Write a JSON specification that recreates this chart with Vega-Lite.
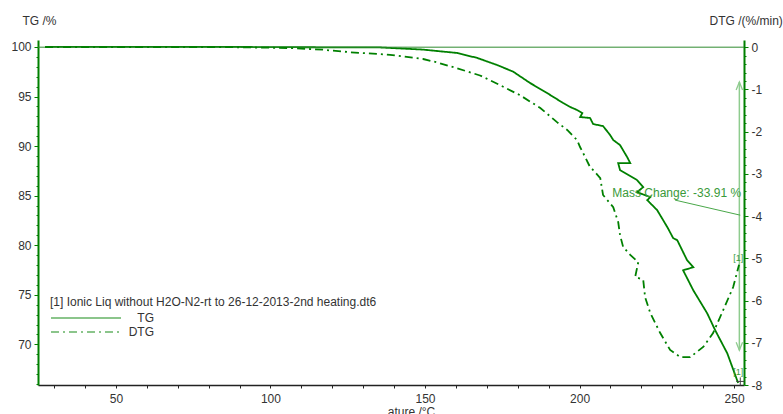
{
  "$schema": "https://vega.github.io/schema/vega-lite/v6.json",
  "width": 706,
  "height": 345,
  "autosize": {"type": "none"},
  "padding": {"left": 38, "top": 40, "right": 39, "bottom": 29},
  "background": "white",
  "config": {
    "view": {"stroke": null},
    "font": "Liberation Sans",
    "axis": {"grid": false, "labelOverlap": false, "labelFont": "Liberation Sans", "titleFont": "Liberation Sans", "labelFontSize": 12, "titleFontSize": 12, "labelColor": "#333333", "titleColor": "#333333", "titleFontWeight": "normal"}
  },
  "datasets": {
    "curves": [
      {"series": "TG", "i": 0, "T": 27.1, "v": 100.0},
      {"series": "TG", "i": 1, "T": 61.0, "v": 100.0},
      {"series": "TG", "i": 2, "T": 87.9, "v": 100.0},
      {"series": "TG", "i": 3, "T": 109.6, "v": 99.97},
      {"series": "TG", "i": 4, "T": 135.5, "v": 99.95},
      {"series": "TG", "i": 5, "T": 149.4, "v": 99.73},
      {"series": "TG", "i": 6, "T": 160.4, "v": 99.39},
      {"series": "TG", "i": 7, "T": 166.9, "v": 98.89},
      {"series": "TG", "i": 8, "T": 173.3, "v": 98.18},
      {"series": "TG", "i": 9, "T": 178.5, "v": 97.51},
      {"series": "TG", "i": 10, "T": 184.0, "v": 96.36},
      {"series": "TG", "i": 11, "T": 189.5, "v": 95.35},
      {"series": "TG", "i": 12, "T": 194.7, "v": 94.34},
      {"series": "TG", "i": 13, "T": 197.0, "v": 93.94},
      {"series": "TG", "i": 14, "T": 199.2, "v": 93.64},
      {"series": "TG", "i": 15, "T": 200.9, "v": 93.33},
      {"series": "TG", "i": 16, "T": 200.2, "v": 92.93},
      {"series": "TG", "i": 17, "T": 203.4, "v": 92.83},
      {"series": "TG", "i": 18, "T": 204.4, "v": 92.22},
      {"series": "TG", "i": 19, "T": 207.6, "v": 92.02},
      {"series": "TG", "i": 20, "T": 209.9, "v": 91.11},
      {"series": "TG", "i": 21, "T": 210.9, "v": 90.61},
      {"series": "TG", "i": 22, "T": 213.1, "v": 90.10},
      {"series": "TG", "i": 23, "T": 215.4, "v": 88.89},
      {"series": "TG", "i": 24, "T": 216.4, "v": 88.28},
      {"series": "TG", "i": 25, "T": 212.5, "v": 88.28},
      {"series": "TG", "i": 26, "T": 213.1, "v": 87.58},
      {"series": "TG", "i": 27, "T": 218.6, "v": 86.57},
      {"series": "TG", "i": 28, "T": 220.6, "v": 85.86},
      {"series": "TG", "i": 29, "T": 218.6, "v": 85.35},
      {"series": "TG", "i": 30, "T": 222.9, "v": 84.85},
      {"series": "TG", "i": 31, "T": 221.9, "v": 84.55},
      {"series": "TG", "i": 32, "T": 225.1, "v": 83.54},
      {"series": "TG", "i": 33, "T": 228.4, "v": 81.82},
      {"series": "TG", "i": 34, "T": 230.3, "v": 80.71},
      {"series": "TG", "i": 35, "T": 231.6, "v": 80.51},
      {"series": "TG", "i": 36, "T": 234.8, "v": 78.48},
      {"series": "TG", "i": 37, "T": 236.8, "v": 77.78},
      {"series": "TG", "i": 38, "T": 233.5, "v": 77.47},
      {"series": "TG", "i": 39, "T": 236.8, "v": 75.45},
      {"series": "TG", "i": 40, "T": 241.3, "v": 73.13},
      {"series": "TG", "i": 41, "T": 243.9, "v": 71.41},
      {"series": "TG", "i": 42, "T": 247.8, "v": 69.09},
      {"series": "TG", "i": 43, "T": 251.3, "v": 66.1},
      {"series": "DTG", "i": 0, "T": 27.1, "v": 0},
      {"series": "DTG", "i": 1, "T": 87.9, "v": 0},
      {"series": "DTG", "i": 2, "T": 106.4, "v": -0.02},
      {"series": "DTG", "i": 3, "T": 117.0, "v": -0.06},
      {"series": "DTG", "i": 4, "T": 125.8, "v": -0.12},
      {"series": "DTG", "i": 5, "T": 138.7, "v": -0.18},
      {"series": "DTG", "i": 6, "T": 149.4, "v": -0.28},
      {"series": "DTG", "i": 7, "T": 153.9, "v": -0.36},
      {"series": "DTG", "i": 8, "T": 160.4, "v": -0.50},
      {"series": "DTG", "i": 9, "T": 167.8, "v": -0.67},
      {"series": "DTG", "i": 10, "T": 174.3, "v": -0.90},
      {"series": "DTG", "i": 11, "T": 180.8, "v": -1.14},
      {"series": "DTG", "i": 12, "T": 187.3, "v": -1.44},
      {"series": "DTG", "i": 13, "T": 192.8, "v": -1.78},
      {"series": "DTG", "i": 14, "T": 196.0, "v": -1.96},
      {"series": "DTG", "i": 15, "T": 199.2, "v": -2.20},
      {"series": "DTG", "i": 16, "T": 200.2, "v": -2.37},
      {"series": "DTG", "i": 17, "T": 201.8, "v": -2.60},
      {"series": "DTG", "i": 18, "T": 203.4, "v": -2.84},
      {"series": "DTG", "i": 19, "T": 204.4, "v": -2.91},
      {"series": "DTG", "i": 20, "T": 206.7, "v": -3.10},
      {"series": "DTG", "i": 21, "T": 207.6, "v": -3.50},
      {"series": "DTG", "i": 22, "T": 210.9, "v": -3.79},
      {"series": "DTG", "i": 23, "T": 212.5, "v": -4.14},
      {"series": "DTG", "i": 24, "T": 213.1, "v": -4.45},
      {"series": "DTG", "i": 25, "T": 214.1, "v": -4.73},
      {"series": "DTG", "i": 26, "T": 216.4, "v": -4.92},
      {"series": "DTG", "i": 27, "T": 219.0, "v": -5.09},
      {"series": "DTG", "i": 28, "T": 218.0, "v": -5.44},
      {"series": "DTG", "i": 29, "T": 220.6, "v": -5.51},
      {"series": "DTG", "i": 30, "T": 221.2, "v": -5.92},
      {"series": "DTG", "i": 31, "T": 222.9, "v": -6.30},
      {"series": "DTG", "i": 32, "T": 226.1, "v": -6.77},
      {"series": "DTG", "i": 33, "T": 229.3, "v": -7.17},
      {"series": "DTG", "i": 34, "T": 232.6, "v": -7.34},
      {"series": "DTG", "i": 35, "T": 235.8, "v": -7.34},
      {"series": "DTG", "i": 36, "T": 240.0, "v": -7.10},
      {"series": "DTG", "i": 37, "T": 243.2, "v": -6.77},
      {"series": "DTG", "i": 38, "T": 246.5, "v": -6.22},
      {"series": "DTG", "i": 39, "T": 249.7, "v": -5.68},
      {"series": "DTG", "i": 40, "T": 251.6, "v": -5.15}
    ]
  },
  "data": {"name": "curves"},
  "layer": [
    {
      "layer": [
        {
          "transform": [{"filter": "datum.series === 'TG'"}],
          "mark": {"type": "line", "strokeWidth": 1.8, "clip": true},
          "encoding": {
            "x": {"field": "T", "type": "quantitative", "scale": {"domain": [24.8, 253.2], "nice": false, "zero": false},
              "axis": {"values": [30, 40, 50, 60, 70, 80, 90, 100, 110, 120, 130, 140, 150, 160, 170, 180, 190, 200, 210, 220, 230, 240, 250], "labelOverlap": false, "labelExpr": "datum.value % 50 === 0 ? datum.label : ''", "tickSize": 3, "tickColor": "#222222", "domainColor": "#222222", "domainWidth": 1.5, "labelPadding": 5, "title": "ature /°C", "titleX": 373, "titleY": 26, "titleBaseline": "middle", "titleAlign": "center"}},
            "y": {"field": "v", "type": "quantitative", "scale": {"domain": [65.9, 100.7], "nice": false, "zero": false},
              "axis": {"orient": "left", "values": [66, 67, 68, 69, 70, 71, 72, 73, 74, 75, 76, 77, 78, 79, 80, 81, 82, 83, 84, 85, 86, 87, 88, 89, 90, 91, 92, 93, 94, 95, 96, 97, 98, 99, 100], "labelOverlap": false, "labelExpr": "datum.value % 5 === 0 ? datum.label : ''", "tickSize": {"condition": {"test": "datum.value % 5 === 0", "value": 4}, "value": 2}, "tickColor": "#008000", "domainColor": "#008000", "domainWidth": 2, "labelPadding": 3, "title": "TG /%", "titleAngle": 0, "titleAlign": "left", "titleBaseline": "middle", "titleX": -16, "titleY": -20}},
            "color": {"field": "series", "type": "nominal", "scale": {"domain": ["TG", "DTG"], "range": ["#008000", "#008000"]},
              "legend": {"orient": "none", "legendX": 12, "legendY": 257, "padding": 0,
                "title": "[1] Ionic Liq without H2O-N2-rt to 26-12-2013-2nd heating.dt6", "titleLimit": 600, "titleFontSize": 12, "titleFontWeight": "normal", "titleColor": "#333333", "titleFont": "Liberation Sans", "titlePadding": 1,
                "labelFontSize": 12, "labelColor": "#333333", "labelFont": "Liberation Sans", "labelAlign": "right", "labelOffset": 88,
                "symbolType": "M-1,0L9,0", "symbolSize": 196, "symbolStrokeWidth": 1.3, "symbolOpacity": 0.6, "rowPadding": 0}},
            "strokeDash": {"field": "series", "type": "nominal", "scale": {"domain": ["TG", "DTG"], "range": [[1, 0], [8, 4, 2, 4]]},
              "legend": {"orient": "none", "legendX": 12, "legendY": 257, "padding": 0,
                "title": "[1] Ionic Liq without H2O-N2-rt to 26-12-2013-2nd heating.dt6", "titleLimit": 600, "titleFontSize": 12, "titleFontWeight": "normal", "titleColor": "#333333", "titleFont": "Liberation Sans", "titlePadding": 1,
                "labelFontSize": 12, "labelColor": "#333333", "labelFont": "Liberation Sans", "labelAlign": "right", "labelOffset": 88,
                "symbolType": "M-1,0L9,0", "symbolSize": 196, "symbolStrokeWidth": 1.3, "symbolOpacity": 0.6, "rowPadding": 0}},
            "order": {"field": "i", "type": "quantitative"}
          }
        },
        {
          "data": {"values": [{}]},
          "mark": {"type": "rule", "color": "#8fcc8f", "strokeWidth": 1.5},
          "encoding": {
            "x": {"datum": 251.7, "type": "quantitative", "axis": {"values": [30, 40, 50, 60, 70, 80, 90, 100, 110, 120, 130, 140, 150, 160, 170, 180, 190, 200, 210, 220, 230, 240, 250], "labelOverlap": false, "labelExpr": "datum.value % 50 === 0 ? datum.label : ''", "tickSize": 3, "tickColor": "#222222", "domainColor": "#222222", "domainWidth": 1.5, "labelPadding": 5, "title": "ature /°C", "titleX": 373, "titleY": 26, "titleBaseline": "middle", "titleAlign": "center"}},
            "y": {"datum": 96.46, "type": "quantitative", "axis": {"orient": "left", "values": [66, 67, 68, 69, 70, 71, 72, 73, 74, 75, 76, 77, 78, 79, 80, 81, 82, 83, 84, 85, 86, 87, 88, 89, 90, 91, 92, 93, 94, 95, 96, 97, 98, 99, 100], "labelOverlap": false, "labelExpr": "datum.value % 5 === 0 ? datum.label : ''", "tickSize": {"condition": {"test": "datum.value % 5 === 0", "value": 4}, "value": 2}, "tickColor": "#008000", "domainColor": "#008000", "domainWidth": 2, "labelPadding": 3, "title": "TG /%", "titleAngle": 0, "titleAlign": "left", "titleBaseline": "middle", "titleX": -16, "titleY": -20}},
            "y2": {"datum": 69.4}
          }
        },
        {
          "data": {"values": [{}]},
          "mark": {"type": "point", "shape": "M-0.4,1L0,0L0.4,1", "size": 256, "filled": false, "color": "#8fcc8f", "strokeWidth": 1.3, "opacity": 1},
          "encoding": {
            "x": {"datum": 251.7, "type": "quantitative", "axis": {"values": [30, 40, 50, 60, 70, 80, 90, 100, 110, 120, 130, 140, 150, 160, 170, 180, 190, 200, 210, 220, 230, 240, 250], "labelOverlap": false, "labelExpr": "datum.value % 50 === 0 ? datum.label : ''", "tickSize": 3, "tickColor": "#222222", "domainColor": "#222222", "domainWidth": 1.5, "labelPadding": 5, "title": "ature /°C", "titleX": 373, "titleY": 26, "titleBaseline": "middle", "titleAlign": "center"}},
            "y": {"datum": 96.46, "type": "quantitative", "axis": {"orient": "left", "values": [66, 67, 68, 69, 70, 71, 72, 73, 74, 75, 76, 77, 78, 79, 80, 81, 82, 83, 84, 85, 86, 87, 88, 89, 90, 91, 92, 93, 94, 95, 96, 97, 98, 99, 100], "labelOverlap": false, "labelExpr": "datum.value % 5 === 0 ? datum.label : ''", "tickSize": {"condition": {"test": "datum.value % 5 === 0", "value": 4}, "value": 2}, "tickColor": "#008000", "domainColor": "#008000", "domainWidth": 2, "labelPadding": 3, "title": "TG /%", "titleAngle": 0, "titleAlign": "left", "titleBaseline": "middle", "titleX": -16, "titleY": -20}}
          }
        },
        {
          "data": {"values": [{}]},
          "mark": {"type": "point", "shape": "M-0.4,-1L0,0L0.4,-1", "size": 256, "filled": false, "color": "#8fcc8f", "strokeWidth": 1.3, "opacity": 1},
          "encoding": {
            "x": {"datum": 251.7, "type": "quantitative", "axis": {"values": [30, 40, 50, 60, 70, 80, 90, 100, 110, 120, 130, 140, 150, 160, 170, 180, 190, 200, 210, 220, 230, 240, 250], "labelOverlap": false, "labelExpr": "datum.value % 50 === 0 ? datum.label : ''", "tickSize": 3, "tickColor": "#222222", "domainColor": "#222222", "domainWidth": 1.5, "labelPadding": 5, "title": "ature /°C", "titleX": 373, "titleY": 26, "titleBaseline": "middle", "titleAlign": "center"}},
            "y": {"datum": 69.4, "type": "quantitative", "axis": {"orient": "left", "values": [66, 67, 68, 69, 70, 71, 72, 73, 74, 75, 76, 77, 78, 79, 80, 81, 82, 83, 84, 85, 86, 87, 88, 89, 90, 91, 92, 93, 94, 95, 96, 97, 98, 99, 100], "labelOverlap": false, "labelExpr": "datum.value % 5 === 0 ? datum.label : ''", "tickSize": {"condition": {"test": "datum.value % 5 === 0", "value": 4}, "value": 2}, "tickColor": "#008000", "domainColor": "#008000", "domainWidth": 2, "labelPadding": 3, "title": "TG /%", "titleAngle": 0, "titleAlign": "left", "titleBaseline": "middle", "titleX": -16, "titleY": -20}}
          }
        },
        {
          "data": {"values": [{}]},
          "mark": {"type": "rule", "color": "#4aa84a", "strokeWidth": 1},
          "encoding": {
            "x": {"datum": 230.9, "type": "quantitative", "axis": {"values": [30, 40, 50, 60, 70, 80, 90, 100, 110, 120, 130, 140, 150, 160, 170, 180, 190, 200, 210, 220, 230, 240, 250], "labelOverlap": false, "labelExpr": "datum.value % 50 === 0 ? datum.label : ''", "tickSize": 3, "tickColor": "#222222", "domainColor": "#222222", "domainWidth": 1.5, "labelPadding": 5, "title": "ature /°C", "titleX": 373, "titleY": 26, "titleBaseline": "middle", "titleAlign": "center"}},
            "x2": {"datum": 252.0},
            "y": {"datum": 84.55, "type": "quantitative", "axis": {"orient": "left", "values": [66, 67, 68, 69, 70, 71, 72, 73, 74, 75, 76, 77, 78, 79, 80, 81, 82, 83, 84, 85, 86, 87, 88, 89, 90, 91, 92, 93, 94, 95, 96, 97, 98, 99, 100], "labelOverlap": false, "labelExpr": "datum.value % 5 === 0 ? datum.label : ''", "tickSize": {"condition": {"test": "datum.value % 5 === 0", "value": 4}, "value": 2}, "tickColor": "#008000", "domainColor": "#008000", "domainWidth": 2, "labelPadding": 3, "title": "TG /%", "titleAngle": 0, "titleAlign": "left", "titleBaseline": "middle", "titleX": -16, "titleY": -20}},
            "y2": {"datum": 83.03}
          }
        },
        {
          "data": {"values": [{}]},
          "mark": {"type": "text", "text": "Mass Change: -33.91 %", "align": "left", "baseline": "middle", "fontSize": 12, "font": "Liberation Sans", "color": "#3a9a3a"},
          "encoding": {
            "x": {"datum": 210.6, "type": "quantitative", "axis": {"values": [30, 40, 50, 60, 70, 80, 90, 100, 110, 120, 130, 140, 150, 160, 170, 180, 190, 200, 210, 220, 230, 240, 250], "labelOverlap": false, "labelExpr": "datum.value % 50 === 0 ? datum.label : ''", "tickSize": 3, "tickColor": "#222222", "domainColor": "#222222", "domainWidth": 1.5, "labelPadding": 5, "title": "ature /°C", "titleX": 373, "titleY": 26, "titleBaseline": "middle", "titleAlign": "center"}},
            "y": {"datum": 85.25, "type": "quantitative", "axis": {"orient": "left", "values": [66, 67, 68, 69, 70, 71, 72, 73, 74, 75, 76, 77, 78, 79, 80, 81, 82, 83, 84, 85, 86, 87, 88, 89, 90, 91, 92, 93, 94, 95, 96, 97, 98, 99, 100], "labelOverlap": false, "labelExpr": "datum.value % 5 === 0 ? datum.label : ''", "tickSize": {"condition": {"test": "datum.value % 5 === 0", "value": 4}, "value": 2}, "tickColor": "#008000", "domainColor": "#008000", "domainWidth": 2, "labelPadding": 3, "title": "TG /%", "titleAngle": 0, "titleAlign": "left", "titleBaseline": "middle", "titleX": -16, "titleY": -20}}
          }
        },
        {
          "data": {"values": [{}]},
          "mark": {"type": "text", "text": "[1]", "align": "center", "baseline": "middle", "fontSize": 9, "font": "Liberation Sans", "color": "#3a9a3a"},
          "encoding": {
            "x": {"datum": 251.3, "type": "quantitative", "axis": {"values": [30, 40, 50, 60, 70, 80, 90, 100, 110, 120, 130, 140, 150, 160, 170, 180, 190, 200, 210, 220, 230, 240, 250], "labelOverlap": false, "labelExpr": "datum.value % 50 === 0 ? datum.label : ''", "tickSize": 3, "tickColor": "#222222", "domainColor": "#222222", "domainWidth": 1.5, "labelPadding": 5, "title": "ature /°C", "titleX": 373, "titleY": 26, "titleBaseline": "middle", "titleAlign": "center"}},
            "y": {"datum": 78.69, "type": "quantitative", "axis": {"orient": "left", "values": [66, 67, 68, 69, 70, 71, 72, 73, 74, 75, 76, 77, 78, 79, 80, 81, 82, 83, 84, 85, 86, 87, 88, 89, 90, 91, 92, 93, 94, 95, 96, 97, 98, 99, 100], "labelOverlap": false, "labelExpr": "datum.value % 5 === 0 ? datum.label : ''", "tickSize": {"condition": {"test": "datum.value % 5 === 0", "value": 4}, "value": 2}, "tickColor": "#008000", "domainColor": "#008000", "domainWidth": 2, "labelPadding": 3, "title": "TG /%", "titleAngle": 0, "titleAlign": "left", "titleBaseline": "middle", "titleX": -16, "titleY": -20}}
          }
        },
        {
          "data": {"values": [{}]},
          "mark": {"type": "text", "text": "[1]", "align": "center", "baseline": "middle", "fontSize": 9, "font": "Liberation Sans", "color": "#3a9a3a"},
          "encoding": {
            "x": {"datum": 251.3, "type": "quantitative", "axis": {"values": [30, 40, 50, 60, 70, 80, 90, 100, 110, 120, 130, 140, 150, 160, 170, 180, 190, 200, 210, 220, 230, 240, 250], "labelOverlap": false, "labelExpr": "datum.value % 50 === 0 ? datum.label : ''", "tickSize": 3, "tickColor": "#222222", "domainColor": "#222222", "domainWidth": 1.5, "labelPadding": 5, "title": "ature /°C", "titleX": 373, "titleY": 26, "titleBaseline": "middle", "titleAlign": "center"}},
            "y": {"datum": 67.17, "type": "quantitative", "axis": {"orient": "left", "values": [66, 67, 68, 69, 70, 71, 72, 73, 74, 75, 76, 77, 78, 79, 80, 81, 82, 83, 84, 85, 86, 87, 88, 89, 90, 91, 92, 93, 94, 95, 96, 97, 98, 99, 100], "labelOverlap": false, "labelExpr": "datum.value % 5 === 0 ? datum.label : ''", "tickSize": {"condition": {"test": "datum.value % 5 === 0", "value": 4}, "value": 2}, "tickColor": "#008000", "domainColor": "#008000", "domainWidth": 2, "labelPadding": 3, "title": "TG /%", "titleAngle": 0, "titleAlign": "left", "titleBaseline": "middle", "titleX": -16, "titleY": -20}}
          }
        },
        {
          "data": {"values": [{}]},
          "mark": {"type": "point", "shape": "M-1,0L1,0M0,-1L0,1", "size": 64, "filled": false, "color": "#444444", "strokeWidth": 1, "opacity": 1},
          "encoding": {
            "x": {"datum": 252.0, "type": "quantitative", "axis": {"values": [30, 40, 50, 60, 70, 80, 90, 100, 110, 120, 130, 140, 150, 160, 170, 180, 190, 200, 210, 220, 230, 240, 250], "labelOverlap": false, "labelExpr": "datum.value % 50 === 0 ? datum.label : ''", "tickSize": 3, "tickColor": "#222222", "domainColor": "#222222", "domainWidth": 1.5, "labelPadding": 5, "title": "ature /°C", "titleX": 373, "titleY": 26, "titleBaseline": "middle", "titleAlign": "center"}},
            "y": {"datum": 66.26, "type": "quantitative", "axis": {"orient": "left", "values": [66, 67, 68, 69, 70, 71, 72, 73, 74, 75, 76, 77, 78, 79, 80, 81, 82, 83, 84, 85, 86, 87, 88, 89, 90, 91, 92, 93, 94, 95, 96, 97, 98, 99, 100], "labelOverlap": false, "labelExpr": "datum.value % 5 === 0 ? datum.label : ''", "tickSize": {"condition": {"test": "datum.value % 5 === 0", "value": 4}, "value": 2}, "tickColor": "#008000", "domainColor": "#008000", "domainWidth": 2, "labelPadding": 3, "title": "TG /%", "titleAngle": 0, "titleAlign": "left", "titleBaseline": "middle", "titleX": -16, "titleY": -20}}
          }
        }
      ]
    },
    {
      "layer": [
        {
          "data": {"values": [{}]},
          "mark": {"type": "rule", "color": "#2e8b2e", "strokeWidth": 1},
          "encoding": {
            "y": {"datum": 0, "type": "quantitative", "axis": {"orient": "right", "values": [-8, -7.8, -7.6, -7.4, -7.2, -7, -6.8, -6.6, -6.4, -6.2, -6, -5.8, -5.6, -5.4, -5.2, -5, -4.8, -4.6, -4.4, -4.2, -4, -3.8, -3.6, -3.4, -3.2, -3, -2.8, -2.6, -2.4, -2.2, -2, -1.8, -1.6, -1.4, -1.2, -1, -0.8, -0.6, -0.4, -0.2, 0], "labelOverlap": false, "labelExpr": "abs(datum.value - round(datum.value)) < 0.01 ? toString(round(datum.value)) : ''", "tickSize": {"condition": {"test": "abs(datum.value - round(datum.value)) < 0.01", "value": 4}, "value": 2}, "tickColor": "#008000", "domainColor": "#008000", "domainWidth": 2, "labelPadding": 3, "title": "DTG /(%/min)", "titleAngle": 0, "titleAlign": "left", "titleBaseline": "middle", "titleX": -35, "titleY": -20}}
          }
        },
        {
          "transform": [{"filter": "datum.series === 'DTG'"}],
          "mark": {"type": "line", "strokeWidth": 1.8, "clip": true},
          "encoding": {
            "x": {"field": "T", "type": "quantitative", "axis": {"values": [30, 40, 50, 60, 70, 80, 90, 100, 110, 120, 130, 140, 150, 160, 170, 180, 190, 200, 210, 220, 230, 240, 250], "labelOverlap": false, "labelExpr": "datum.value % 50 === 0 ? datum.label : ''", "tickSize": 3, "tickColor": "#222222", "domainColor": "#222222", "domainWidth": 1.5, "labelPadding": 5, "title": "ature /°C", "titleX": 373, "titleY": 26, "titleBaseline": "middle", "titleAlign": "center"}},
            "y": {"field": "v", "type": "quantitative", "scale": {"domain": [-8, 0.17], "nice": false, "zero": false},
              "axis": {"orient": "right", "values": [-8, -7.8, -7.6, -7.4, -7.2, -7, -6.8, -6.6, -6.4, -6.2, -6, -5.8, -5.6, -5.4, -5.2, -5, -4.8, -4.6, -4.4, -4.2, -4, -3.8, -3.6, -3.4, -3.2, -3, -2.8, -2.6, -2.4, -2.2, -2, -1.8, -1.6, -1.4, -1.2, -1, -0.8, -0.6, -0.4, -0.2, 0], "labelOverlap": false, "labelExpr": "abs(datum.value - round(datum.value)) < 0.01 ? toString(round(datum.value)) : ''", "tickSize": {"condition": {"test": "abs(datum.value - round(datum.value)) < 0.01", "value": 4}, "value": 2}, "tickColor": "#008000", "domainColor": "#008000", "domainWidth": 2, "labelPadding": 3, "title": "DTG /(%/min)", "titleAngle": 0, "titleAlign": "left", "titleBaseline": "middle", "titleX": -35, "titleY": -20}},
            "color": {"field": "series", "type": "nominal"},
            "strokeDash": {"field": "series", "type": "nominal"},
            "order": {"field": "i", "type": "quantitative"}
          }
        }
      ]
    }
  ],
  "resolve": {"scale": {"y": "independent"}}
}
